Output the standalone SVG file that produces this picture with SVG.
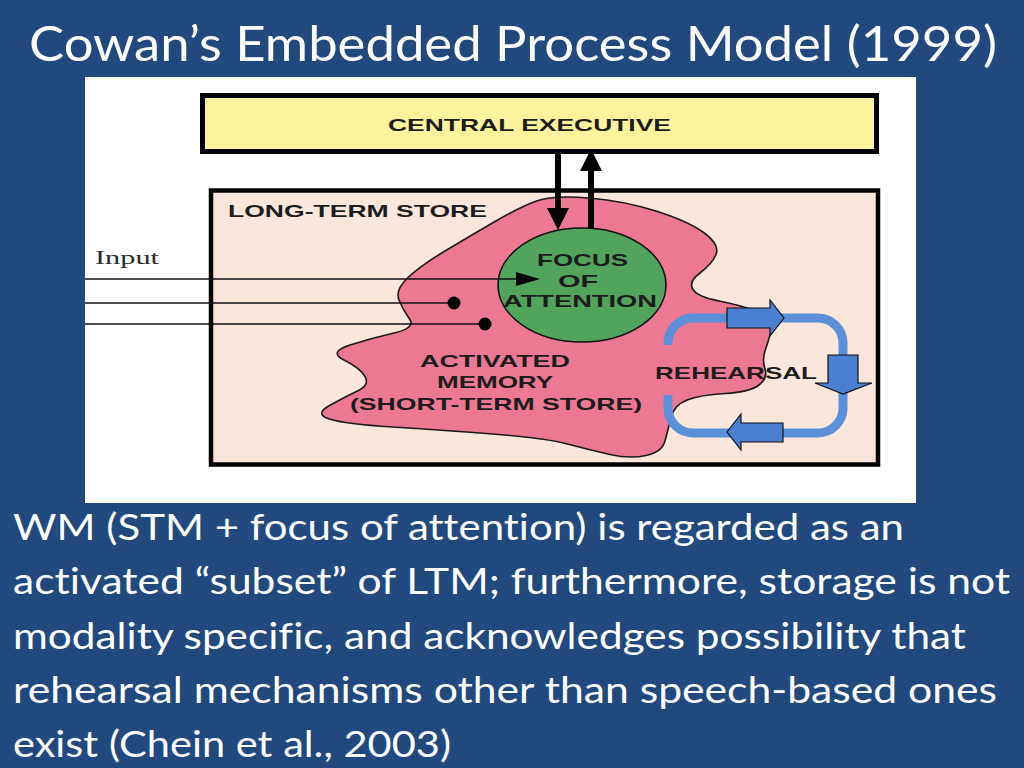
<svg xmlns="http://www.w3.org/2000/svg" width="1024" height="768" viewBox="0 0 1024 768">
  <defs>
    <style>
      .slide-title { font-family: Lato, "Open Sans", sans-serif; font-size: 48px; fill: #ffffff; font-variant-ligatures: none; }
      .body { font-family: Lato, "Open Sans", sans-serif; font-size: 36px; fill: #ffffff; font-variant-ligatures: none; }
      .lbl { font-family: "Liberation Sans", Arial, sans-serif; font-weight: bold; font-size: 17px; fill: #1c1c1c; }
      .serif { font-family: "Liberation Serif", "Times New Roman", serif; font-size: 18px; fill: #2a2a2a; }
      .thin { stroke: #111; stroke-width: 1.4; fill: none; }
      .thick { stroke: #000; stroke-width: 6; fill: none; }
      .blk { fill: #4a7fd1; stroke: #111; stroke-width: 1.2; stroke-linejoin: miter; }
    </style>
    <marker id="bigHead" markerUnits="userSpaceOnUse" markerWidth="22" markerHeight="22" refX="0" refY="11" orient="auto" viewBox="0 0 22 22">
      <path d="M0,0 L22,11 L0,22 Z" fill="#000"/>
    </marker>
    <marker id="smallHead" markerUnits="userSpaceOnUse" markerWidth="24" markerHeight="14" refX="0" refY="7" orient="auto" viewBox="0 0 24 14">
      <path d="M0,0 L24,7 L0,14 Z" fill="#000"/>
    </marker>
  </defs>

  <rect x="0" y="0" width="1024" height="768" fill="#21497e"/>

  <g id="title">
    <text class="slide-title" x="29" y="61" textLength="968" lengthAdjust="spacingAndGlyphs">Cowan’s Embedded Process Model (1999)</text>
  </g>

  <g id="figure">
    <rect x="85" y="77" width="831" height="426" fill="#ffffff"/>

    <g id="long-term-store">
      <rect x="211" y="190.5" width="667" height="274" fill="#fbe6dc" stroke="#000" stroke-width="4.5"/>
      <text class="lbl" x="228" y="217" textLength="259" lengthAdjust="spacingAndGlyphs">LONG-TERM STORE</text>
    </g>

    <g id="central-executive">
      <rect x="202.5" y="95.5" width="674" height="56" fill="#fcf39c" stroke="#000" stroke-width="5"/>
      <text class="lbl" x="388" y="131" textLength="283" lengthAdjust="spacingAndGlyphs">CENTRAL EXECUTIVE</text>
    </g>

    <g id="activated-memory">
      <path d="M536.5,201 Q553,195 589,198 Q625,201 657.5,211.5 Q690,222 705,233.5 Q720,245 716,254.5 Q712,264 700,273 Q688,282 693,289.5 Q698,297 719,301 Q740,305 757.5,311.5 Q775,318 771.5,330 Q768,342 765,351 Q762,360 765,369 Q768,378 759,385 Q750,392 725,393.5 Q700,395 687,400 Q674,405 671,417.5 Q668,430 665,441 Q662,452 646,455.5 Q630,459 610,454.5 Q590,450 567.5,444 Q545,438 492.5,434 Q440,430 392.5,427 Q345,424 329.5,419 Q314,414 329.5,405.5 Q345,397 357.5,391 Q370,385 365,376.5 Q360,368 344,360 Q328,352 350,345 Q372,338 394,333 Q416,328 409.5,319 Q403,310 399,300 Q395,290 407.5,278 Q420,266 445,251 Q470,236 495,221.5 Q520,207 536.5,201 Z" fill="#ec7894" stroke="#1a1a1a" stroke-width="1.6"/>
      <text class="lbl" x="420" y="367" textLength="150" lengthAdjust="spacingAndGlyphs">ACTIVATED</text>
      <text class="lbl" x="437" y="388" textLength="116" lengthAdjust="spacingAndGlyphs">MEMORY</text>
      <text class="lbl" x="350" y="410" textLength="292" lengthAdjust="spacingAndGlyphs">(SHORT-TERM STORE)</text>
    </g>

    <g id="focus-of-attention">
      <ellipse cx="582" cy="285" rx="84" ry="57" fill="#52a35c" stroke="#111" stroke-width="1.6"/>
      <text class="lbl" x="537" y="266" textLength="91" lengthAdjust="spacingAndGlyphs">FOCUS</text>
      <text class="lbl" x="558" y="287" textLength="40" lengthAdjust="spacingAndGlyphs">OF</text>
      <text class="lbl" x="503" y="307" textLength="154" lengthAdjust="spacingAndGlyphs">ATTENTION</text>
    </g>

    <g id="rehearsal">
      <path d="M668,395 L668,408 A25,25 0 0 0 693,433 L818,433 A25,25 0 0 0 843,408 L843,343 A25,25 0 0 0 818,318 L693,318 A25,25 0 0 0 668,343 L668,345" fill="none" stroke="#5b8fd8" stroke-width="9"/>
      <polygon class="blk" points="727,308 770,308 770,300 784,318 770,336 770,328 727,328"/>
      <polygon class="blk" points="828,355 858,355 858,383 872,383 843,394 815,383 828,383"/>
      <polygon class="blk" points="783,423 741,423 741,414 727,432 741,450 741,442 783,442"/>
      <text class="lbl" x="655" y="379" textLength="162" lengthAdjust="spacingAndGlyphs">REHEARSAL</text>
    </g>

    <g id="input">
      <text class="serif" x="95" y="264" textLength="64" lengthAdjust="spacingAndGlyphs">Input</text>
    </g>

    <g id="connectors">
      <line class="thin" x1="85" y1="279" x2="516" y2="279" marker-end="url(#smallHead)"/>
      <line class="thin" x1="85" y1="303" x2="454" y2="303"/>
      <circle cx="454" cy="303" r="6.5" fill="#000"/>
      <line class="thin" x1="85" y1="324" x2="485" y2="324"/>
      <circle cx="485" cy="324" r="6.5" fill="#000"/>
      <line class="thick" x1="558" y1="154" x2="558" y2="208" marker-end="url(#bigHead)"/>
      <line class="thick" x1="591" y1="229" x2="591" y2="171" marker-end="url(#bigHead)"/>
    </g>
  </g>

  <g id="body-text">
    <text class="body" x="13" y="540" textLength="891" lengthAdjust="spacingAndGlyphs">WM (STM + focus of attention) is regarded as an</text>
    <text class="body" x="13" y="594" textLength="997" lengthAdjust="spacingAndGlyphs">activated “subset” of LTM; furthermore, storage is not</text>
    <text class="body" x="13" y="649" textLength="953" lengthAdjust="spacingAndGlyphs">modality specific, and acknowledges possibility that</text>
    <text class="body" x="13" y="703" textLength="984" lengthAdjust="spacingAndGlyphs">rehearsal mechanisms other than speech-based ones</text>
    <text class="body" x="13" y="757" textLength="438" lengthAdjust="spacingAndGlyphs">exist (Chein et al., 2003)</text>
  </g>
</svg>
